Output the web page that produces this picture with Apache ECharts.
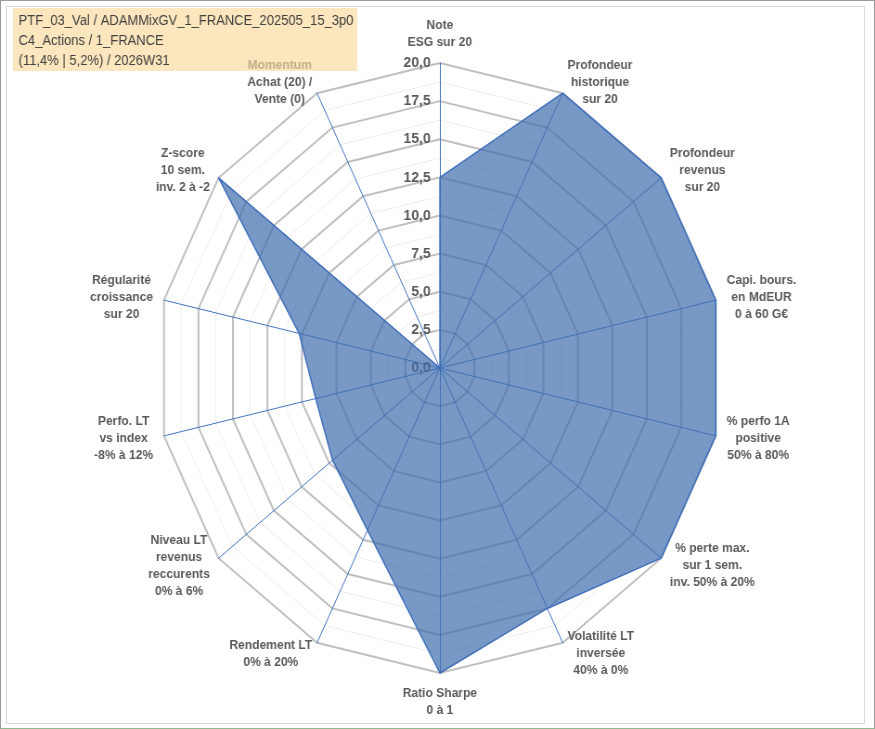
<!DOCTYPE html>
<html>
<head>
<meta charset="utf-8">
<script src="https://cdn.jsdelivr.net/npm/echarts@6/dist/echarts.min.js"></script>
<style>
  body { margin: 0; background: #fff; }
  #frame { position: absolute; left: 0; top: 0; width: 873px; height: 727px;
           border: 1px solid #9a9a9a; border-bottom-color: #8fb98f; }
  #inner { position: absolute; left: 5px; top: 5px; width: 857px; height: 716px;
           border: 1px solid #d9d9d9; }
  /* Excel chart is a little narrower than tall: squeeze the drawing horizontally */
  #main { position: absolute; left: 0; top: 0; width: 943px; height: 729px;
          transform: scaleX(0.928); transform-origin: 0 0; }
</style>
</head>
<body>
<div id="frame"><div id="inner"></div></div>
<div id="main"></div>
<script>
// axes, clockwise from the top
var indicatorNames = [
  'Note\nESG sur 20',
  'Profondeur\nhistorique\nsur 20',
  'Profondeur\nrevenus\nsur 20',
  'Capi. bours.\nen MdEUR\n0 à 60 G€',
  '% perfo 1A\npositive\n50% à 80%',
  '% perte max.\nsur 1 sem.\ninv. 50% à 20%',
  'Volatilité LT\ninversée\n40% à 0%',
  'Ratio Sharpe\n0 à 1',
  'Rendement LT\n0% à 20%',
  'Niveau LT\nrevenus\nreccurents\n0% à 6%',
  'Perfo. LT\nvs index\n-8% à 12%',
  'Régularité\ncroissance\nsur 20',
  'Z-score\n10 sem.\ninv. 2 à -2',
  'Momentum\nAchat (20) /\nVente (0)'
];
var scores = [12.5, 20, 20, 20, 20, 20, 17.5, 20, 11.8, 9.7, 9.0, 10.2, 20, 0];

var axisMax = 20;
var majorSplits = 8;   // rings every 2,5
var minorSplits = 16;

var titleLines = [
  'PTF_03_Val / ADAMMixGV_1_FRANCE_202505_15_3p0',
  'C4_Actions / 1_FRANCE',
  '(11,4% | 5,2%) / 2026W31'
];

var FONT = '"Liberation Sans", Arial, sans-serif';

// echarts lays indicators out counter-clockwise, so walk the list backwards
var order = indicatorNames.map(function (_, i) {
  return (indicatorNames.length - i) % indicatorNames.length;
});

function fmtTick(v) {
  return Number(v).toFixed(1).replace('.', ',');
}

var chart = echarts.init(document.getElementById('main'));

var baseRadar = {
  center: [474, 368],
  radius: 305,
  startAngle: 90,
  shape: 'polygon',
  z: 1,
  splitArea: { show: false },
  axisTick: { show: false }
};

chart.setOption({
  backgroundColor: 'transparent',
  title: {
    text: titleLines.join('\n'),
    left: 14,
    top: 8,
    z: 0,
    padding: [3, 4, 0, 6],
    backgroundColor: '#fce6bd',
    textStyle: {
      fontFamily: FONT,
      fontSize: 14,
      fontWeight: 'normal',
      color: '#404040',
      lineHeight: 20
    }
  },
  radar: [
    Object.assign({}, baseRadar, {
      indicator: order.map(function (i) {
        return { name: indicatorNames[i], min: 0, max: axisMax };
      }),
      splitNumber: minorSplits,
      axisName: { show: false },
      axisLine: { show: false },
      axisLabel: { show: false },
      splitLine: { lineStyle: { color: '#ededed', width: 1 } }
    }),
    Object.assign({}, baseRadar, {
      indicator: order.map(function (i, k) {
        var o = { name: indicatorNames[i], min: 0, max: axisMax };
        if (k === 0) {
          o.axisLabel = {
            show: true,
            showMinLabel: true,
            fontFamily: FONT,
            fontSize: 15,
            fontWeight: 'bold',
            color: '#595959',
            margin: 10,
            formatter: fmtTick
          };
        }
        return o;
      }),
      splitNumber: majorSplits,
      nameGap: 12,
      axisName: {
        color: '#595959',
        fontFamily: FONT,
        fontSize: 13,
        fontWeight: 'bold',
        lineHeight: 17,
        formatter: function (name) {
          return name.split('\n').map(function (l) {
            return (l === 'Momentum' ? '{m|' : '{c|') + l + '}';
          }).join('\n');
        },
        rich: {
          c: { align: 'center', fontFamily: FONT, fontSize: 13, fontWeight: 'bold', lineHeight: 17 },
          m: { align: 'center', fontFamily: FONT, fontSize: 13, fontWeight: 'bold', lineHeight: 17, color: '#c2ae88' }
        }
      },
      axisLine: { lineStyle: { color: '#4472c4', width: 1 } },
      axisLabel: { show: false },
      splitLine: { lineStyle: { color: '#bfbfbf', width: 2 } }
    })
  ],
  series: [{
    type: 'radar',
    radarIndex: 1,
    symbol: 'none',
    silent: true,
    lineStyle: { color: '#4472c4', width: 1.5 },
    areaStyle: { color: '#3e6dae', opacity: 0.7 },
    data: [{ value: order.map(function (i) { return scores[i]; }) }]
  }]
});
</script>
</body>
</html>
